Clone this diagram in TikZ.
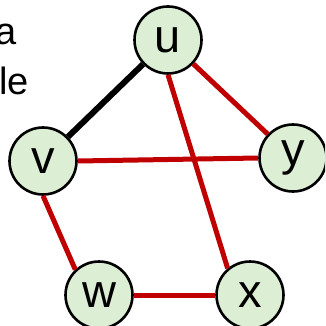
\documentclass[tikz,border=0pt]{standalone}
\usepackage{fontspec}
\setmainfont{Liberation Sans}
\definecolor{vfill}{HTML}{DCEFD4}
\definecolor{ered}{HTML}{C00000}
\begin{document}
\begin{tikzpicture}[x=1pt, y=-1pt,
  vertex/.style={circle, draw=black, line width=2.6pt, fill=vfill, minimum size=67pt, inner sep=0pt, font=\fontsize{47}{47}\selectfont},
  cut/.style={anchor=base east, inner sep=0pt, font=\fontsize{38}{38}\selectfont},
  redge/.style={ered, line width=5pt},
  bedge/.style={black, line width=6pt}]
  \useasboundingbox (0,0) rectangle (325,326);
  \clip (0,0) rectangle (325,326);
  \node[cut] (t1) at (17,45) {a};
  \node[cut] (t2) at (29,95) {le};
  \node[vertex] (u) at (168,40) {u};
  \node[vertex] (v) at (43,161) {v};
  \node[vertex] (y) at (293,158) {y};
  \node[vertex] (w) at (99,295) {w};
  \node[vertex] (x) at (250,295) {x};
  \path[redge]
    (u) edge (y)
    (u.south) edge (x.130)
    (v.east) edge (y.west)
    (v.south) edge (w.133)
    (w) edge (x);
  \path[bedge] (u) edge (v);
\end{tikzpicture}
\end{document}
